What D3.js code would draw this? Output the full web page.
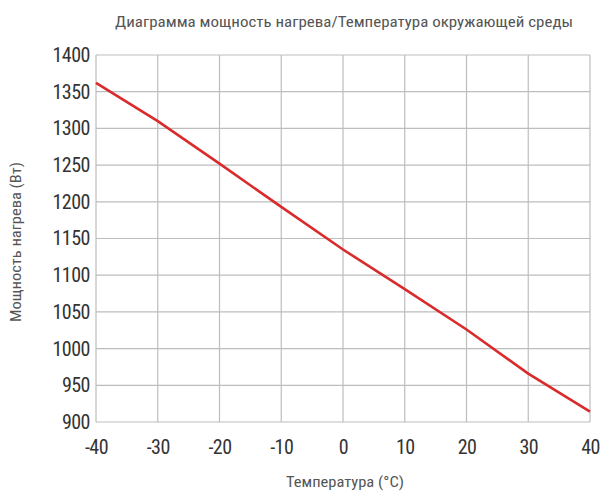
<!DOCTYPE html>
<html><head><meta charset="utf-8">
<script src="https://cdn.jsdelivr.net/npm/d3@7"></script>
<style>body{margin:0;background:#fff}</style>
</head><body>
<svg id="c" width="600" height="492"></svg>
<script>
const temps = [-40, -30, -20, -10, 0, 10, 20, 30, 40];
const power = [1362, 1310, 1252, 1193, 1135, 1081, 1026, 966, 914];
const xTicks = [-40, -30, -20, -10, 0, 10, 20, 30, 40];
const yTicks = [900, 950, 1000, 1050, 1100, 1150, 1200, 1250, 1300, 1350, 1400];
const title = "Диаграмма мощность нагрева/Температура окружающей среды";
const xLabel = "Температура (°C)";
const yLabel = "Мощность нагрева (Вт)";

const svg = d3.select("#c");
const font = "'Liberation Sans Narrow','Roboto Condensed','Roboto',sans-serif";
const x = d3.scaleLinear().domain([-40, 40]).range([96, 590]);
const y = d3.scaleLinear().domain([900, 1400]).range([422, 55]);

// grid
svg.append("g").selectAll("line").data(yTicks).join("line")
  .attr("x1", x(-40)).attr("x2", x(40))
  .attr("y1", d => y(d)).attr("y2", d => y(d))
  .attr("stroke", "#bdbdbd").attr("stroke-width", 1.2);
svg.append("g").selectAll("line").data(xTicks).join("line")
  .attr("y1", y(900)).attr("y2", y(1400))
  .attr("x1", d => x(d)).attr("x2", d => x(d))
  .attr("stroke", "#bdbdbd").attr("stroke-width", 1.2);

// axes (labels only)
const xAxis = svg.append("g").attr("transform", `translate(0,${y(900)})`)
  .call(d3.axisBottom(x).tickValues(xTicks).tickSize(0).tickPadding(18).tickFormat(d => String(d)));
const yAxis = svg.append("g").attr("transform", `translate(${x(-40)},0)`)
  .call(d3.axisLeft(y).tickValues(yTicks).tickSize(0).tickPadding(6).tickFormat(d => String(d)));
[xAxis, yAxis].forEach(g => {
  g.select(".domain").remove();
  g.selectAll("text").attr("font-family", font).attr("font-size", 20)
    .attr("fill", "#333").attr("letter-spacing", -0.5);
});

// line
svg.append("path")
  .datum(temps.map((t, i) => [t, power[i]]))
  .attr("fill", "none").attr("stroke", "#d92b2b").attr("stroke-width", 2.6)
  .attr("d", d3.line().x(d => x(d[0])).y(d => y(d[1])));

// texts
svg.append("text").attr("x", 344).attr("y", 27).attr("text-anchor", "middle")
  .attr("font-family", font).attr("font-size", 14).attr("fill", "#555")
  .attr("textLength", 458).attr("lengthAdjust", "spacingAndGlyphs").text(title);
svg.append("text").attr("x", 345).attr("y", 487).attr("text-anchor", "middle")
  .attr("font-family", font).attr("font-size", 14).attr("fill", "#555")
  .attr("textLength", 118).attr("lengthAdjust", "spacingAndGlyphs").text(xLabel);
svg.append("text").attr("transform", "translate(21,242) rotate(-90)").attr("text-anchor", "middle")
  .attr("font-family", font).attr("font-size", 14).attr("fill", "#555")
  .attr("textLength", 160).attr("lengthAdjust", "spacingAndGlyphs").text(yLabel);
</script>
</body></html>
